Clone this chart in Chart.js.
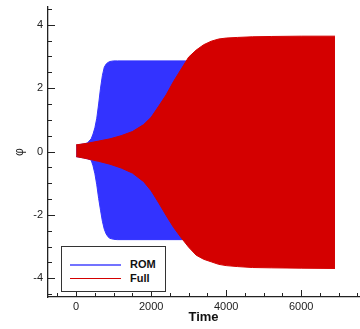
<!DOCTYPE html>
<html>
<head>
<meta charset="utf-8">
<script src="https://cdn.jsdelivr.net/npm/chart.js@4"></script>
<style>
  html, body { margin: 0; padding: 0; background: #fff; }
  #wrap { position: relative; width: 360px; height: 329px; }
  #legend {
    position: absolute; left: 61px; top: 246px; width: 103px; height: 44px;
    border: 1px solid #333; background: #fff;
    font: bold 11px "Liberation Sans", Arial, sans-serif; color: #111;
  }
  .row { position: absolute; left: 0; height: 14px; }
  .row .ln { position: absolute; left: 8px; width: 51px; height: 2px; }
  .row .tx { position: absolute; left: 68px; top: -7px; line-height: 14px; }
</style>
</head>
<body>
<div id="wrap">
  <canvas id="chart" width="360" height="329"></canvas>
  <div id="legend">
    <div class="row" style="top:17px"><div class="ln" style="background:#7373ff"></div><div class="tx">ROM</div></div>
    <div class="row" style="top:31px"><div class="ln" style="background:#d40000;height:1px"></div><div class="tx">Full</div></div>
  </div>
</div>
<script>
// envelope of the fast oscillation
const romTime  = [0, 200, 300, 400, 450, 500, 550, 600, 650, 700, 750, 800, 850, 900, 1000, 1100, 6900];
const romUpper = [0.2, 0.24, 0.27, 0.4, 0.55, 0.75, 1.05, 1.5, 2.0, 2.4, 2.66, 2.76, 2.81, 2.84, 2.86, 2.86, 2.86];
const romLower = [-0.16, -0.2, -0.23, -0.27, -0.45, -0.7, -1.05, -1.48, -1.85, -2.2, -2.45, -2.6, -2.69, -2.74, -2.77, -2.78, -2.78];

const fullTime  = [0, 300, 600, 900, 1200, 1500, 1800, 2000, 2200, 2400, 2600, 2800, 3000, 3200, 3400, 3600, 3800, 4000, 4300, 4700, 5200, 6000, 6900];
const fullUpper = [0.21, 0.26, 0.33, 0.4, 0.5, 0.63, 0.85, 1.08, 1.43, 1.79, 2.22, 2.6, 2.98, 3.2, 3.37, 3.48, 3.55, 3.58, 3.6, 3.62, 3.63, 3.64, 3.64];
const fullLower = [-0.16, -0.23, -0.31, -0.4, -0.52, -0.68, -0.95, -1.24, -1.62, -2.02, -2.4, -2.72, -3.02, -3.27, -3.4, -3.48, -3.56, -3.6, -3.63, -3.66, -3.67, -3.68, -3.69];

const xTicks = [0, 2000, 4000, 6000];
const xMinor = [-500, 500, 1000, 1500, 2500, 3000, 3500, 4500, 5000, 5500, 6500, 7000, 7500];
const yTicks = [-4, -2, 0, 2, 4];
const yMinor = [-4.5, -3.5, -3, -2.5, -1.5, -1, -0.5, 0.5, 1, 1.5, 2.5, 3, 3.5, 4.5];

const BLUE = "#3333ff";
const RED = "#d40000";
const AXIS = "#222";

const pts = (xs, ys) => xs.map((x, i) => ({ x, y: ys[i] }));

const band = (label, xs, hi, lo, color) => [
  { label, data: pts(xs, hi), borderColor: color, backgroundColor: color, borderWidth: 1, pointRadius: 0, fill: false },
  { label, data: pts(xs, lo), borderColor: color, backgroundColor: color, borderWidth: 1, pointRadius: 0, fill: "-1" },
];

// inward tick marks, like the original plot
const inwardTicks = {
  id: "inwardTicks",
  afterDatasetsDraw(c) {
    const { ctx, chartArea: a } = c;
    const xs = c.scales.x, ys = c.scales.y;
    ctx.save();
    ctx.strokeStyle = AXIS;
    ctx.lineWidth = 1;
    const vx = (v, len) => {
      const p = Math.round(xs.getPixelForValue(v)) + 0.5;
      ctx.beginPath(); ctx.moveTo(p, a.bottom); ctx.lineTo(p, a.bottom - len); ctx.stroke();
    };
    const vy = (v, len) => {
      const p = Math.round(ys.getPixelForValue(v)) + 0.5;
      ctx.beginPath(); ctx.moveTo(a.left, p); ctx.lineTo(a.left + len, p); ctx.stroke();
    };
    xTicks.forEach((v) => vx(v, 7));
    xMinor.forEach((v) => vx(v, 4));
    yTicks.forEach((v) => vy(v, 7));
    yMinor.forEach((v) => vy(v, 4));
    ctx.restore();
  },
};

const font = { family: "'Liberation Sans', Arial, sans-serif", size: 11 };

new Chart(document.getElementById("chart").getContext("2d"), {
  type: "line",
  data: {
    datasets: [
      ...band("Full", fullTime, fullUpper, fullLower, RED),
      ...band("ROM", romTime, romUpper, romLower, BLUE),
    ],
  },
  options: {
    responsive: false,
    animation: false,
    layout: { padding: { top: 7, right: 1, left: 0, bottom: 0 } },
    plugins: { legend: { display: false }, tooltip: { enabled: false } },
    elements: { line: { tension: 0 } },
    scales: {
      x: {
        type: "linear",
        min: -750,
        max: 7540,
        grid: { display: false, drawTicks: false },
        border: { display: true, color: AXIS, width: 1.3 },
        afterBuildTicks: (s) => { s.ticks = xTicks.map((value) => ({ value })); },
        afterFit: (s) => { s.height = 32; s.paddingLeft = 0; s.paddingRight = 0; },
        ticks: { color: "#222", font, padding: 3, callback: (v) => String(v) },
        title: {
          display: true, text: "Time", color: "#111",
          font: { family: font.family, size: 13, weight: "bold" },
          padding: { top: 0, bottom: 4 },
        },
      },
      y: {
        type: "linear",
        min: -4.59,
        max: 4.56,
        grid: { display: false, drawTicks: false },
        border: { display: true, color: AXIS, width: 1.3 },
        afterBuildTicks: (s) => { s.ticks = yTicks.map((value) => ({ value })); },
        afterFit: (s) => { s.width = 48; s.paddingTop = 0; s.paddingBottom = 0; },
        ticks: { color: "#222", font, padding: 5, callback: (v) => String(v) },
        title: {
          display: true, text: "φ", color: "#222",
          font: { family: font.family, size: 12 },
          padding: { top: 12, bottom: 0 },
        },
      },
    },
  },
  plugins: [inwardTicks],
});
</script>
</body>
</html>
